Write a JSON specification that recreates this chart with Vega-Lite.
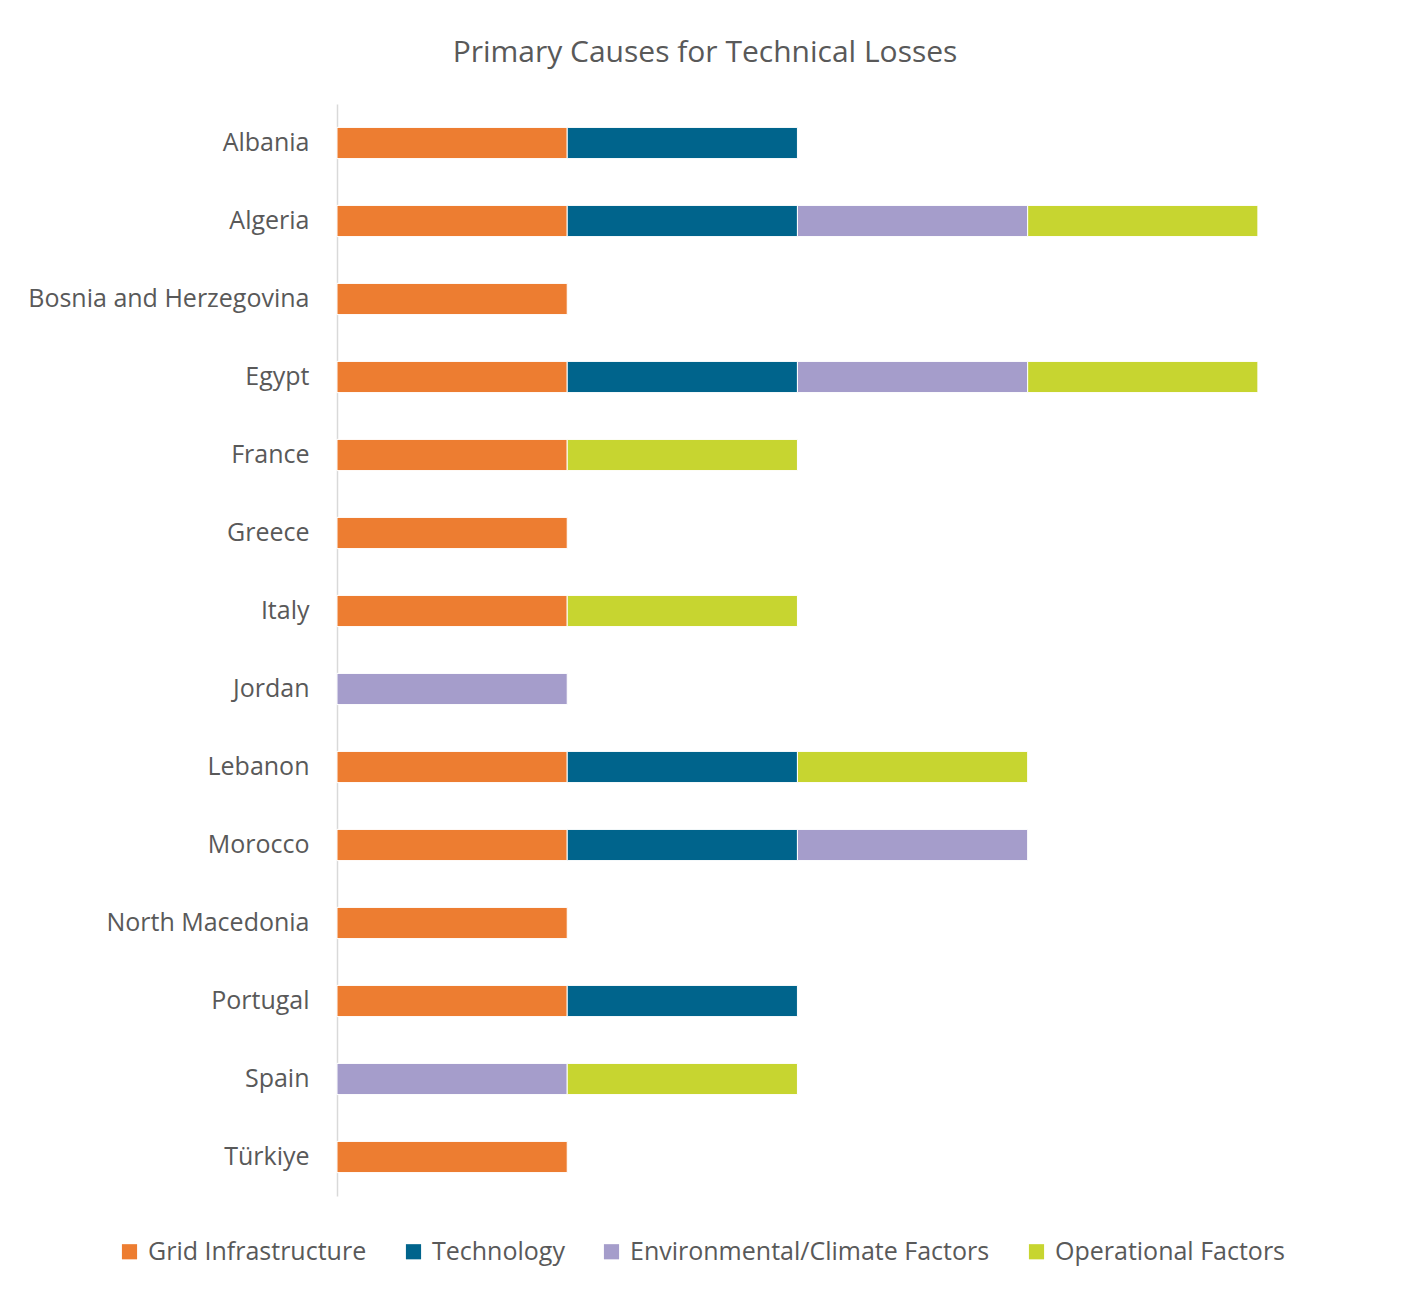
{
  "$schema": "https://vega.github.io/schema/vega-lite/v6.json",
  "autosize": "none",
  "width": 1036,
  "height": 1092,
  "padding": {"left": 337, "top": 104, "right": 34, "bottom": 93},
  "background": "white",
  "title": {
    "text": "Primary Causes for Technical Losses",
    "font": "Open Sans",
    "fontSize": 30,
    "fontWeight": "normal",
    "color": "#595959",
    "anchor": "middle",
    "dx": -150,
    "offset": 36
  },
  "data": {
    "values": [
      {"country": "Albania", "cause": "Grid Infrastructure", "value": 1},
      {"country": "Albania", "cause": "Technology", "value": 1},
      {"country": "Algeria", "cause": "Grid Infrastructure", "value": 1},
      {"country": "Algeria", "cause": "Technology", "value": 1},
      {"country": "Algeria", "cause": "Environmental/Climate Factors", "value": 1},
      {"country": "Algeria", "cause": "Operational Factors", "value": 1},
      {"country": "Bosnia and Herzegovina", "cause": "Grid Infrastructure", "value": 1},
      {"country": "Egypt", "cause": "Grid Infrastructure", "value": 1},
      {"country": "Egypt", "cause": "Technology", "value": 1},
      {"country": "Egypt", "cause": "Environmental/Climate Factors", "value": 1},
      {"country": "Egypt", "cause": "Operational Factors", "value": 1},
      {"country": "France", "cause": "Grid Infrastructure", "value": 1},
      {"country": "France", "cause": "Operational Factors", "value": 1},
      {"country": "Greece", "cause": "Grid Infrastructure", "value": 1},
      {"country": "Italy", "cause": "Grid Infrastructure", "value": 1},
      {"country": "Italy", "cause": "Operational Factors", "value": 1},
      {"country": "Jordan", "cause": "Environmental/Climate Factors", "value": 1},
      {"country": "Lebanon", "cause": "Grid Infrastructure", "value": 1},
      {"country": "Lebanon", "cause": "Technology", "value": 1},
      {"country": "Lebanon", "cause": "Operational Factors", "value": 1},
      {"country": "Morocco", "cause": "Grid Infrastructure", "value": 1},
      {"country": "Morocco", "cause": "Technology", "value": 1},
      {"country": "Morocco", "cause": "Environmental/Climate Factors", "value": 1},
      {"country": "North Macedonia", "cause": "Grid Infrastructure", "value": 1},
      {"country": "Portugal", "cause": "Grid Infrastructure", "value": 1},
      {"country": "Portugal", "cause": "Technology", "value": 1},
      {"country": "Spain", "cause": "Environmental/Climate Factors", "value": 1},
      {"country": "Spain", "cause": "Operational Factors", "value": 1},
      {"country": "Türkiye", "cause": "Grid Infrastructure", "value": 1}
    ]
  },
  "transform": [
    {"calculate": "indexof(['Grid Infrastructure','Technology','Environmental/Climate Factors','Operational Factors'], datum.cause)", "as": "order"}
  ],
  "mark": {"type": "bar", "stroke": "white", "strokeWidth": 1},
  "encoding": {
    "y": {
      "field": "country",
      "type": "nominal",
      "sort": null,
      "scale": {"paddingInner": 0.6, "paddingOuter": 0.3},
      "axis": {
        "title": null,
        "ticks": false,
        "domainColor": "#D9D9D9",
        "domainWidth": 1.5,
        "labelFont": "Open Sans",
        "labelFontSize": 25,
        "labelColor": "#595959",
        "labelPadding": 28,
        "labelLimit": 400,
        "grid": false
      }
    },
    "x": {
      "field": "value",
      "type": "quantitative",
      "stack": "zero",
      "scale": {"domain": [0, 4.5], "nice": false},
      "axis": null
    },
    "order": {"field": "order", "type": "quantitative"},
    "color": {
      "field": "cause",
      "type": "nominal",
      "scale": {
        "domain": ["Grid Infrastructure", "Technology", "Environmental/Climate Factors", "Operational Factors"],
        "range": ["#ED7D31", "#00648C", "#A59DCB", "#C7D530"]
      },
      "legend": {
        "title": null,
        "orient": "none",
        "direction": "horizontal",
        "legendX": -220,
        "legendY": 1135,
        "symbolType": "square",
        "symbolSize": 230,
        "symbolStrokeWidth": 0,
        "labelFont": "Open Sans",
        "labelFontSize": 25,
        "labelColor": "#595959",
        "labelOffset": 6,
        "columnPadding": 34,
        "labelLimit": 500
      }
    }
  },
  "config": {
    "view": {"stroke": null}
  }
}
